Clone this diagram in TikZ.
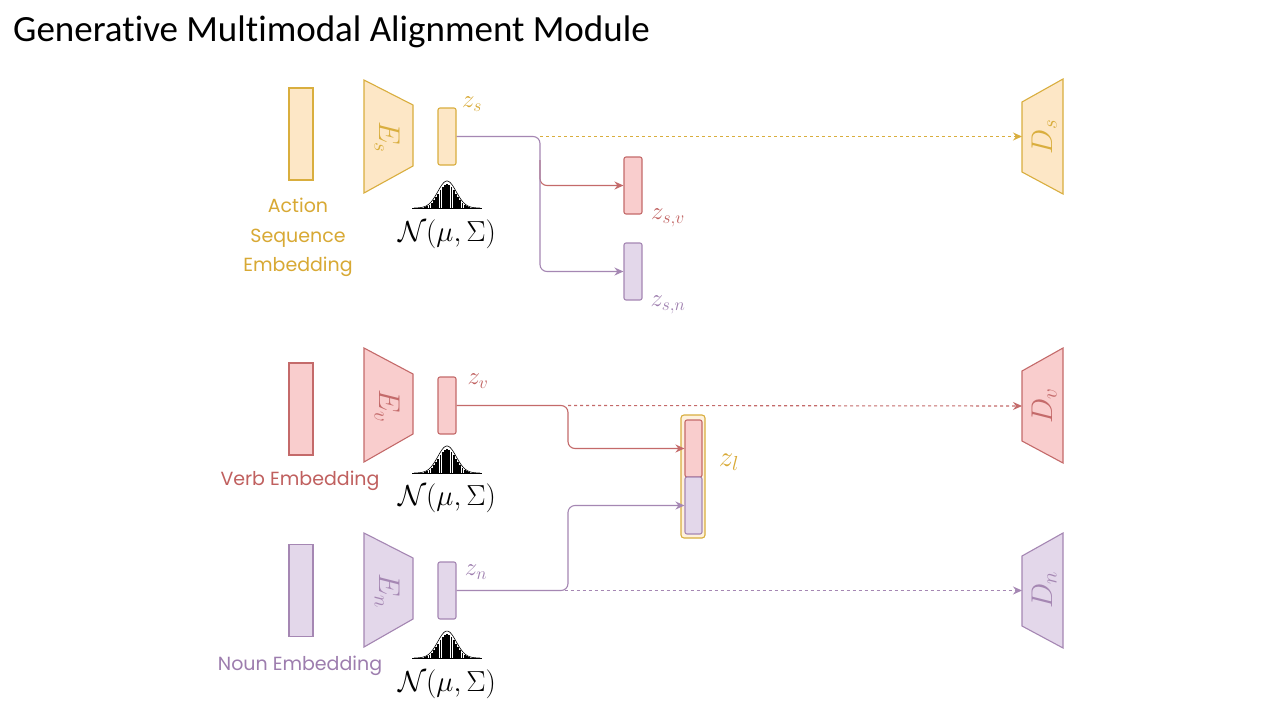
\RequirePackage{fix-cm}
\documentclass[tikz,border=0pt]{standalone}
\usepackage{fontspec}
\usetikzlibrary{arrows.meta}
\newfontfamily\titlefont[Ligatures={NoCommon,NoContextual}]{Carlito}
\newfontfamily\labfont{Poppins}
\definecolor{gS}{HTML}{D9AE3E}
\definecolor{gF}{HTML}{FDE7C6}
\definecolor{gT}{HTML}{D8A934}
\definecolor{rS}{HTML}{C46A6A}
\definecolor{rF}{HTML}{F9CDCD}
\definecolor{rT}{HTML}{C0605F}
\definecolor{pS}{HTML}{A587B3}
\definecolor{pF}{HTML}{E3D7EA}
\definecolor{pT}{HTML}{9D7DAE}
\tikzset{
  embbox/.style={draw, rectangle, minimum width=24pt, minimum height=92pt, inner sep=0pt, line width=1.1pt},
  zbox/.style={draw, rectangle, rounded corners=2pt, minimum width=18pt, minimum height=57pt, inner sep=0pt, line width=1.1pt},
  trap/.style={line width=1.1pt},
  conn/.style={line width=1.1pt, rounded corners=7pt},
  tip/.style={-{Stealth[length=9pt,width=8pt]}},
  dashline/.style={line width=1.1pt, dash pattern=on 3pt off 3pt},
  zlab/.style={inner sep=0pt, font=\fontsize{25}{25}\selectfont},
  emblab/.style={inner sep=0pt, anchor=base, font=\labfont\fontsize{19}{19}\selectfont},
  declab/.style={inner sep=0pt, font=\fontsize{30}{30}\selectfont},
  gauss/.pic={
    \draw[line width=0.5pt] (-35,0) -- (35,0);
    \draw[line width=0.6pt, fill=white] plot[domain=-33:33, samples=60] (\x, {-27*exp(-\x*\x/170)});
    \foreach \i in {-10,...,10} {
      \fill[black] ({\i*2.2-0.9}, 0) rectangle ({\i*2.2+0.9}, {-24*exp(-(\i*2.2)*(\i*2.2)/150)});
    }
  },
  nlab/.style={inner sep=0pt, font=\fontsize{29}{29}\selectfont}
}
\begin{document}
\begin{tikzpicture}[x=1pt, y=-1pt]
\useasboundingbox (0,0) rectangle (1280,720);
\fill[white] (0,0) rectangle (1280,720);

% title
\node[anchor=base west, inner sep=0pt, font=\titlefont\fontsize{37}{37}\selectfont] (title) at (13,41) {Generative Multimodal Alignment Module};

% ---------------- action sequence row ----------------
\node[embbox, draw=gS, fill=gF] (ins) at (301,134) {};
\draw[trap, draw=gS, fill=gF] (364,80) -- (413,105) -- (413,166) -- (364,193) -- cycle;
\node[declab, rotate=-90, text=gS] (Es) at (387,137) {$E_s$};
\node[zbox, draw=gS, fill=gF] (zs) at (447,136.5) {};
\node[zlab, text=gT] (zsl) at (472,104) {$z_s$};
\pic at (447,208) {gauss};
\node[nlab] (Ns) at (447,234) {$\mathcal{N}(\mu,\Sigma)$};
\node[emblab, text=gT] (ts1) at (298,212) {Action};
\node[emblab, text=gT] (ts2) at (298,242) {Sequence};
\node[emblab, text=gT] (ts3) at (298,271) {Embedding};

\node[zbox, draw=rS, fill=rF] (zsv) at (633,185.5) {};
\node[zbox, draw=pS, fill=pF] (zsn) at (633,271.5) {};
\node[zlab, text=rT] (zsvl) at (668,218) {$z_{s,v}$};
\node[zlab, text=pT] (zsnl) at (668,305) {$z_{s,n}$};

\draw[trap, draw=gS, fill=gF] (1022,102) -- (1063,79) -- (1063,194) -- (1022,172) -- cycle;
\node[declab, rotate=90, text=gS] (Dsl) at (1044,137) {$D_s$};
\coordinate (Ds) at (1022,136.5);
\coordinate (bs) at (540,136.5);
\coordinate (bsv) at (540,160);

\draw[dashline, draw=gS, tip] (bs) -- (Ds);
\draw[conn, draw=rS, tip] (bsv) |- (zsv.west);
\draw[conn, draw=pS, tip] (zs.east) -- (bs) |- (zsn.west);

% ---------------- verb row ----------------
\node[embbox, draw=rS, fill=rF] (inv) at (301,409) {};
\draw[trap, draw=rS, fill=rF] (364,348) -- (413,374) -- (413,434) -- (364,462) -- cycle;
\node[declab, rotate=-90, text=rS] (Ev) at (387,406) {$E_v$};
\node[zbox, draw=rS, fill=rF] (zv) at (447,405.5) {};
\node[zlab, text=rT] (zvl) at (478,381) {$z_v$};
\pic at (447,473) {gauss};
\node[nlab] (Nv) at (447,498) {$\mathcal{N}(\mu,\Sigma)$};
\node[emblab, text=rT] (tv) at (300,485) {Verb Embedding};

\draw[trap, draw=rS, fill=rF] (1022,371) -- (1063,348) -- (1063,463) -- (1022,441) -- cycle;
\node[declab, rotate=90, text=rS] (Dvl) at (1044,406) {$D_v$};
\coordinate (Dv) at (1022,406);
\coordinate (bv) at (568,405.5);

% ---------------- noun row ----------------
\node[embbox, draw=pS, fill=pF] (inn) at (301,590.5) {};
\draw[trap, draw=pS, fill=pF] (364,533) -- (413,558) -- (413,619) -- (364,647) -- cycle;
\node[declab, rotate=-90, text=pS] (En) at (387,591) {$E_n$};
\node[zbox, draw=pS, fill=pF] (zn) at (447,590.5) {};
\node[zlab, text=pT] (znl) at (476,572) {$z_n$};
\pic at (447,658) {gauss};
\node[nlab] (Nn) at (447,684) {$\mathcal{N}(\mu,\Sigma)$};
\node[emblab, text=pT] (tn) at (300,670) {Noun Embedding};

\draw[trap, draw=pS, fill=pF] (1022,556) -- (1063,533) -- (1063,648) -- (1022,626) -- cycle;
\node[declab, rotate=90, text=pS] (Dnl) at (1044,590) {$D_n$};
\coordinate (Dn) at (1022,590.5);
\coordinate (bn) at (568,590.5);

% ---------------- z_l ----------------
\node[draw=gS, fill=gF!60, rounded corners=3pt, line width=1.1pt, minimum width=24pt, minimum height=123pt, inner sep=0pt] (zl) at (693,476.5) {};
\node[zbox, draw=rS, fill=rF, minimum width=17pt] (zlv) at (693.5,448.5) {};
\node[zbox, draw=pS, fill=pF, minimum width=17pt] (zln) at (693.5,505.5) {};
\node[zlab, text=gT, font=\fontsize{29}{29}\selectfont] (zll) at (729,462) {$z_l$};

\draw[dashline, draw=rS, tip] (bv) -- (Dv);
\draw[conn, draw=rS, tip] (zv.east) -- (bv) |- (zlv.west);
\draw[dashline, draw=pS, tip] (zn.east) -- (Dn);
\draw[conn, draw=pS, tip] (zn.east) -- (bn) |- (zln.west);
\end{tikzpicture}
\end{document}
